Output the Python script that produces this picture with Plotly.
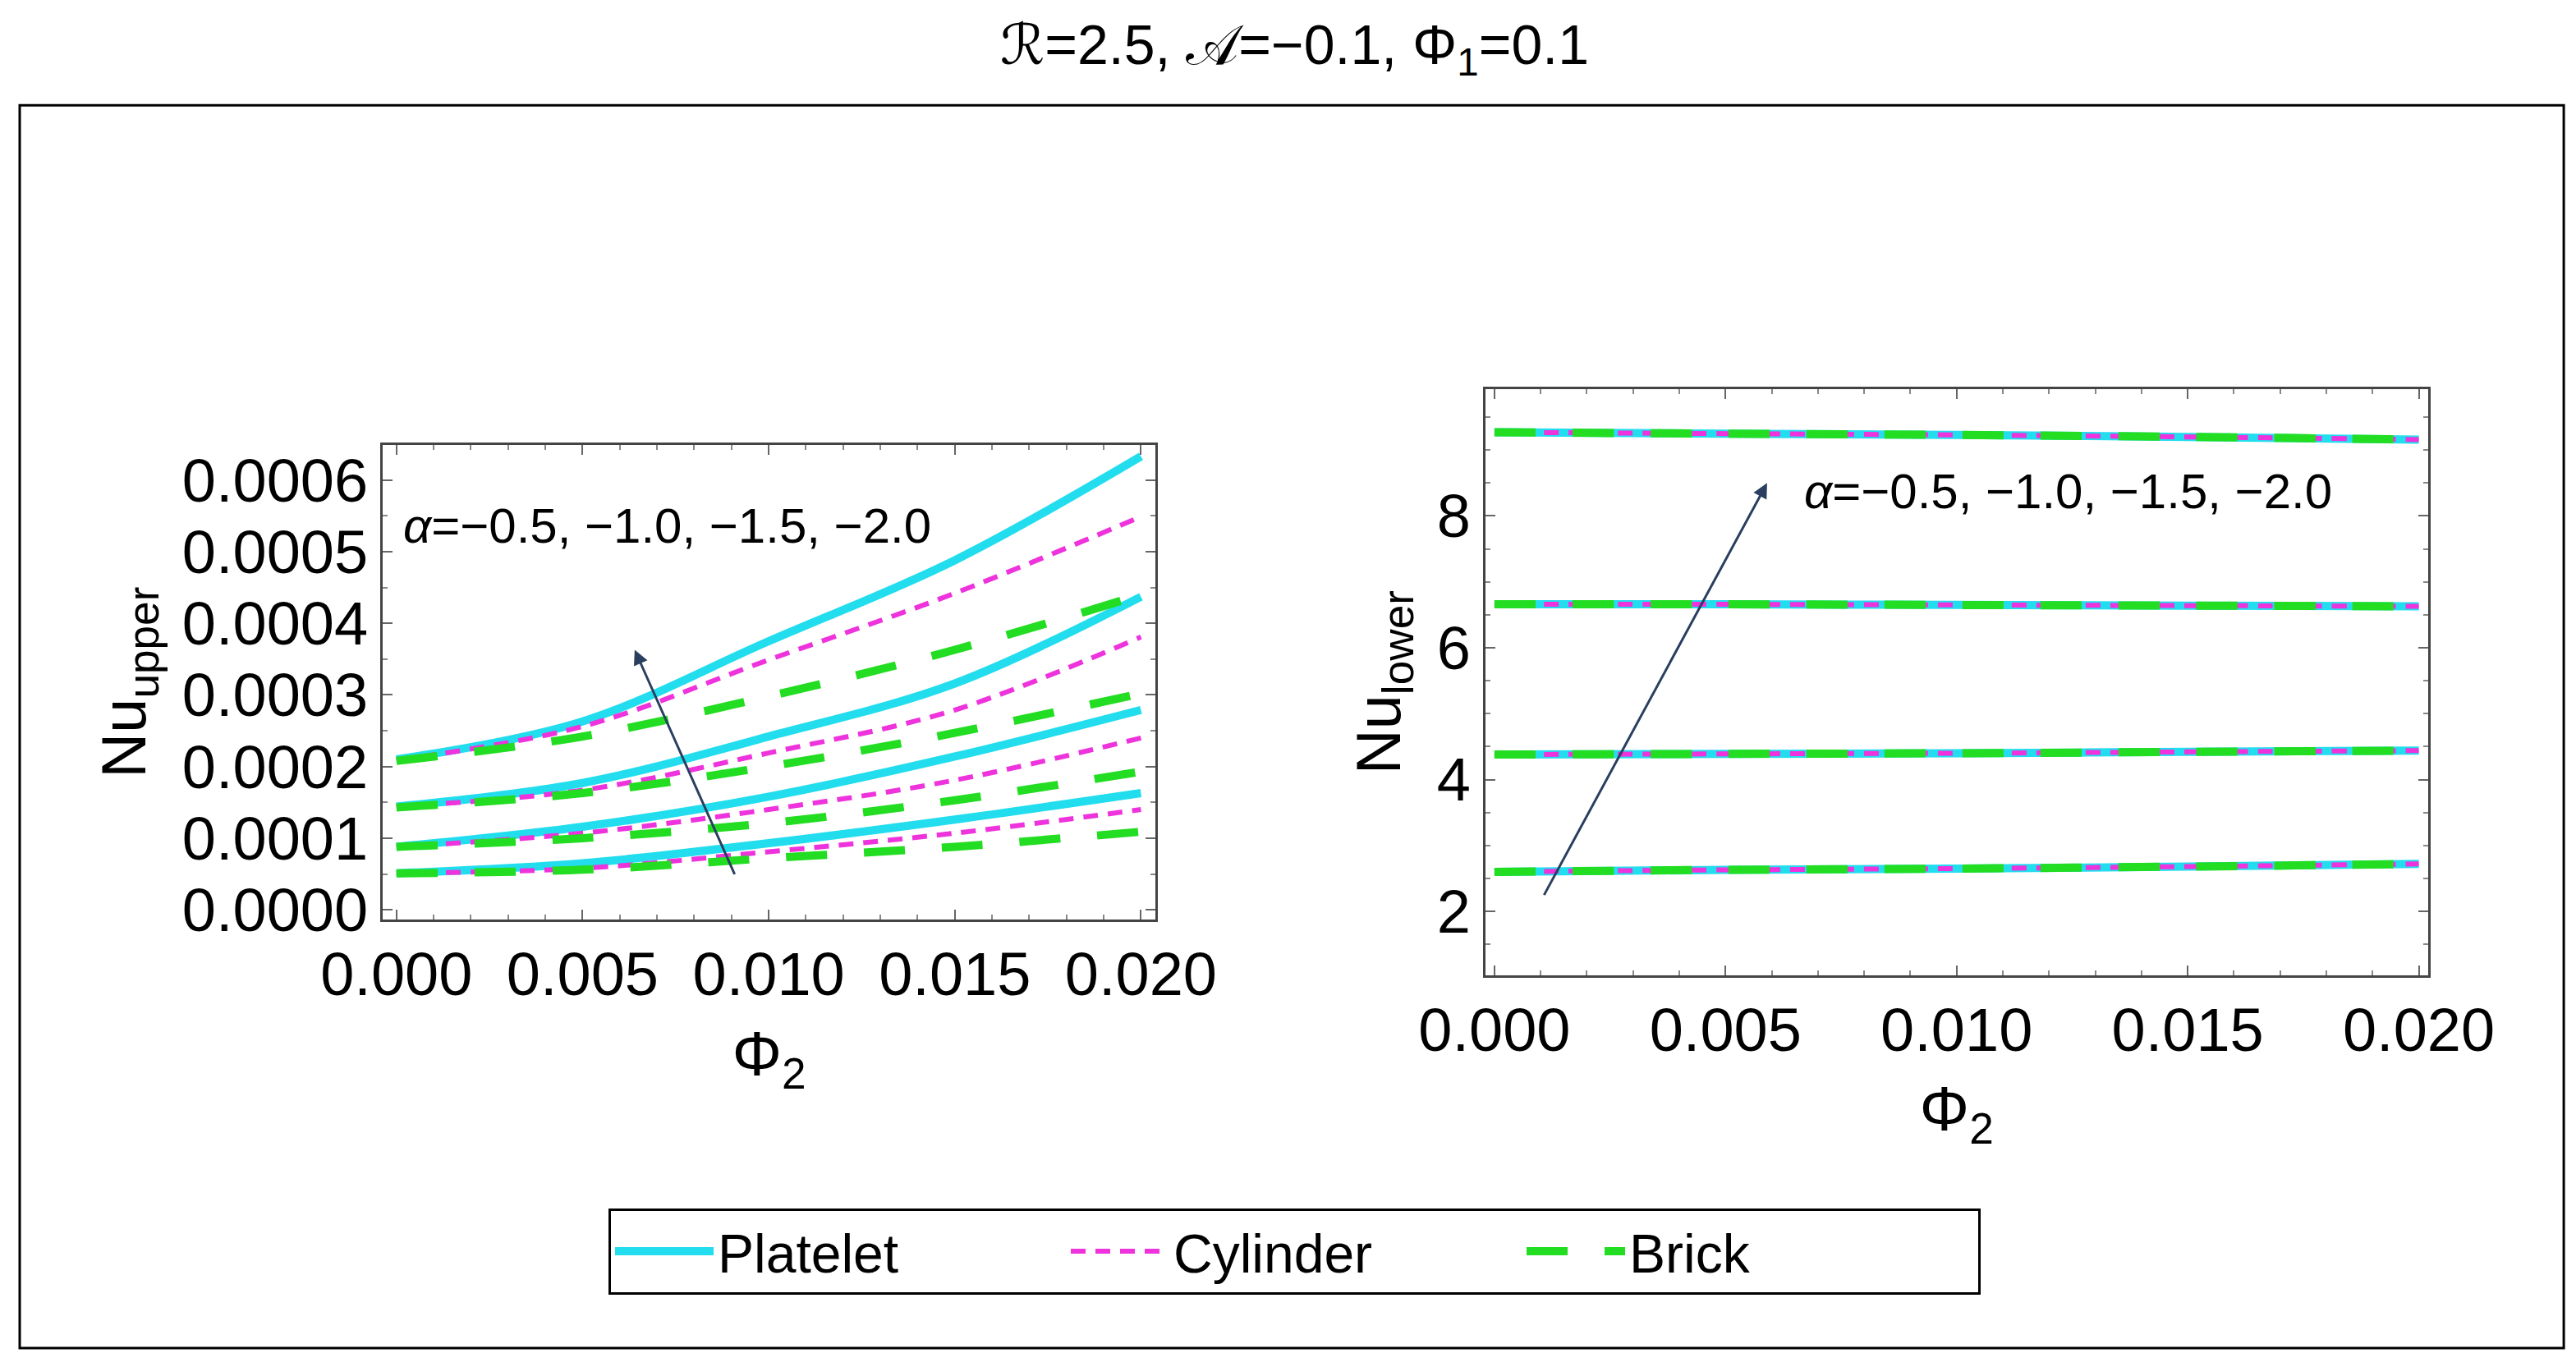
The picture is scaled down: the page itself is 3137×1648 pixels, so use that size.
import plotly.graph_objects as go

phi2 = [0.0, 0.005, 0.010, 0.015, 0.020]
# Nu_upper (x1e-4) for alpha = -0.5, -1.0, -1.5, -2.0
up_platelet = [[0.51, 0.65, 0.93, 1.26, 1.63], [0.88, 1.16, 1.58, 2.14, 2.79],
               [1.44, 1.77, 2.42, 3.16, 4.37], [2.10, 2.63, 3.75, 4.88, 6.33]]
up_cylinder = [[0.51, 0.58, 0.81, 1.07, 1.40], [0.88, 1.07, 1.40, 1.81, 2.40],
               [1.44, 1.67, 2.19, 2.79, 3.81], [2.09, 2.56, 3.49, 4.42, 5.49]]
up_brick = [[0.51, 0.56, 0.72, 0.88, 1.09], [0.88, 1.00, 1.21, 1.53, 1.93],
            [1.43, 1.63, 2.00, 2.47, 3.02], [2.08, 2.42, 2.98, 3.63, 4.40]]
low_vals = [[2.60, 2.63, 2.65, 2.68, 2.72], [4.38, 4.39, 4.40, 4.42, 4.44],
            [6.66, 6.66, 6.65, 6.64, 6.63], [9.27, 9.25, 9.23, 9.20, 9.16]]
labels = ["Platelet", "Cylinder", "Brick"]

styles = {
    "Platelet": dict(color="#22DDEE", width=10, dash="solid", shape="spline"),
    "Cylinder": dict(color="#EE33DD", width=6, dash="18px,12px", shape="spline"),
    "Brick": dict(color="#22DD22", width=10, dash="50px,45px", shape="spline"),
}

fig = go.Figure()
for name, data in zip(labels, [up_platelet, up_cylinder, up_brick]):
    for i, row in enumerate(data):
        fig.add_trace(go.Scatter(x=phi2, y=[v * 1e-4 for v in row], mode="lines",
                                 line=styles[name], name=name, showlegend=(i == 0),
                                 xaxis="x", yaxis="y"))
for name in labels:
    for row in low_vals:
        fig.add_trace(go.Scatter(x=phi2, y=row, mode="lines", line=styles[name],
                                 name=name, showlegend=False, xaxis="x2", yaxis="y2"))

tickfont = dict(family="Liberation Sans, Arial", size=74, color="black")
titlefont = dict(size=76, family="Liberation Sans", color="black")
common = dict(showline=True, mirror="allticks", linecolor="#444", linewidth=3,
              ticks="inside", ticklen=12, tickcolor="#666", tickwidth=2,
              showgrid=False, zeroline=False, tickfont=tickfont, automargin=False,
              minor=dict(ticks="inside", ticklen=6, tickcolor="#888"))

fig.update_layout(
    width=3137, height=1648, margin=dict(l=0, r=0, t=0, b=0, autoexpand=False),
    paper_bgcolor="white", plot_bgcolor="white",
    xaxis=dict(domain=[0.146, 0.446], range=[-0.00037, 0.02039], tickvals=[0, 0.005, 0.01, 0.015, 0.02],
               tickformat=".3f", anchor="y",
               title=dict(text="Φ<sub>2</sub>", font=titlefont, standoff=30), **common),
    yaxis=dict(domain=[0.325, 0.676], range=[-0.000014, 0.000649], tickvals=[0, 1e-4, 2e-4, 3e-4, 4e-4, 5e-4, 6e-4],
               tickformat=".4f", anchor="x",
               title=dict(text="Nu<sub>upper</sub>", font=titlefont, standoff=20), **common),
    xaxis2=dict(domain=[0.574, 0.940], range=[-0.0002, 0.0202], tickvals=[0, 0.005, 0.01, 0.015, 0.02],
                tickformat=".3f", anchor="y2",
                title=dict(text="Φ<sub>2</sub>", font=titlefont, standoff=30), **common),
    yaxis2=dict(domain=[0.284, 0.717], range=[1.03, 9.92], tickvals=[2, 4, 6, 8], anchor="x2",
                title=dict(text="Nu<sub>lower</sub>", font=titlefont, standoff=20), **common),
    legend=dict(orientation="h", x=0.5, xanchor="center", y=0.08, yanchor="middle",
                bordercolor="black", borderwidth=3, font=dict(size=66, family="Liberation Sans", color="black"),
                itemwidth=120, entrywidth=420),
    title=dict(text="ℛ=2.5, 𝒜=−0.1, Φ<sub>1</sub>=0.1", x=0.5, y=0.972, yanchor="middle",
               font=dict(size=68, family="Liberation Sans, DejaVu Sans", color="black")),
)

fig.add_shape(type="rect", xref="paper", yref="paper", x0=0.0051, x1=0.9927, y0=0.0085, y1=0.927,
              line=dict(color="black", width=3))

afont = dict(size=60, family="Liberation Sans", color="black")
fig.add_annotation(x=0.0064, y=0.000363, ax=0.0091, ay=0.000048, xref="x", yref="y", axref="x", ayref="y",
                   showarrow=True, arrowhead=2, arrowsize=1.2, arrowwidth=3, text="")
fig.add_annotation(x=0.00013, y=0.000536, xref="x", yref="y", text="<i>α</i>=−0.5, −1.0, −1.5, −2.0",
                   showarrow=False, xanchor="left", font=afont)
fig.add_annotation(x=0.0059, y=8.5, ax=0.00106, ay=2.23, xref="x2", yref="y2", axref="x2", ayref="y2",
                   showarrow=True, arrowhead=2, arrowsize=1.2, arrowwidth=3, text="")
fig.add_annotation(x=0.00666, y=8.37, xref="x2", yref="y2", text="<i>α</i>=−0.5, −1.0, −1.5, −2.0",
                   showarrow=False, xanchor="left", font=afont)

fig.write_html("out.html")
